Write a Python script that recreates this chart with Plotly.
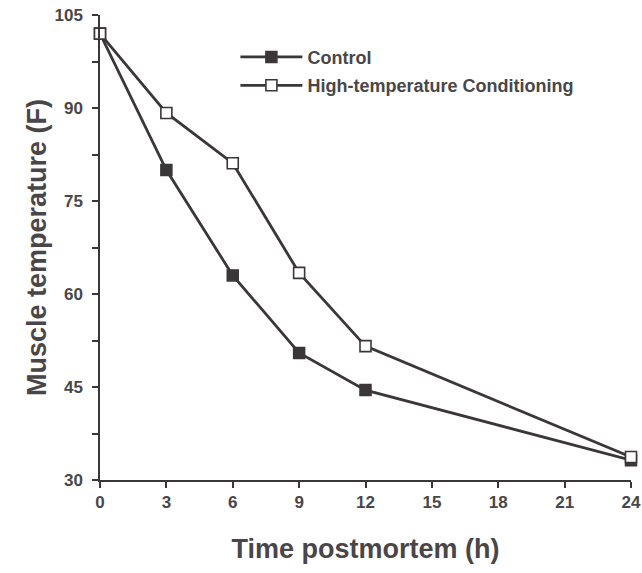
import plotly.graph_objects as go

hours = [0, 3, 6, 9, 12, 24]
control = [102.0, 80.0, 63.0, 50.5, 44.5, 33.2]
high_temp = [102.0, 89.2, 81.1, 63.4, 51.6, 33.7]
x_ticks = [0, 3, 6, 9, 12, 15, 18, 21, 24]
y_ticks = [30, 45, 60, 75, 90, 105]

ink = "#3b3738"
txt = "#4a4648"
font_family = "Liberation Sans, Arial, Helvetica, sans-serif"

fig = go.Figure()
fig.add_trace(go.Scatter(
    x=hours, y=control, name="Control", mode="lines+markers",
    line=dict(color=ink, width=2.8),
    marker=dict(symbol="square", size=11, color=ink, line=dict(color=ink, width=1.5)),
    cliponaxis=False, legendgroup="a",
))
fig.add_trace(go.Scatter(
    x=hours, y=high_temp, name="High-temperature Conditioning", mode="lines+markers",
    line=dict(color=ink, width=2.8),
    marker=dict(symbol="square", size=11, color="white", line=dict(color=ink, width=1.6)),
    cliponaxis=False, legendgroup="b",
))

fig.update_layout(
    width=642, height=573,
    margin=dict(l=100, r=11, t=15, b=93),
    paper_bgcolor="white", plot_bgcolor="white",
    font=dict(family=font_family, color=txt, size=17, weight="bold"),
    showlegend=True,
    legend=dict(
        x=0.255, y=0.949, xanchor="left", yanchor="top",
        bgcolor="rgba(0,0,0,0)", itemwidth=62,
        font=dict(size=18, color=txt, weight="bold"),
        traceorder="grouped", tracegroupgap=2,
    ),
    xaxis=dict(
        range=[0, 24], tickvals=x_ticks, ticktext=[str(v) for v in x_ticks],
        showgrid=False, zeroline=False, showline=True, linecolor=ink, linewidth=1.5,
        ticks="outside", ticklen=6, tickwidth=1.5, tickcolor=ink, automargin=False,
        ticklabeloverflow="allow",
        tickfont=dict(size=17, color=txt, weight="bold"),
        title=dict(text="Time postmortem (h)", font=dict(size=27, color=txt, weight="bold"), standoff=28),
    ),
    yaxis=dict(
        range=[30, 105], tickvals=y_ticks,
        showgrid=False, zeroline=False, showline=True, linecolor=ink, linewidth=1.5,
        ticks="outside", ticklen=6, tickwidth=1.5, tickcolor=ink, automargin=False,
        ticklabeloverflow="allow", ticklabelstandoff=6,
        tickfont=dict(size=17, color=txt, weight="bold"),
        minor=dict(dtick=7.5, tick0=30, ticks="outside", ticklen=6, tickwidth=1.5, tickcolor=ink, showgrid=False),
        title=dict(text="Muscle temperature (F)", font=dict(size=27, color=txt, weight="bold"), standoff=0),
    ),
)

# remove the browser's default page margin so the figure fills the window exactly
fig.write_html("out.html", config={"displayModeBar": False},
               post_script="document.body.style.margin='0px';")
